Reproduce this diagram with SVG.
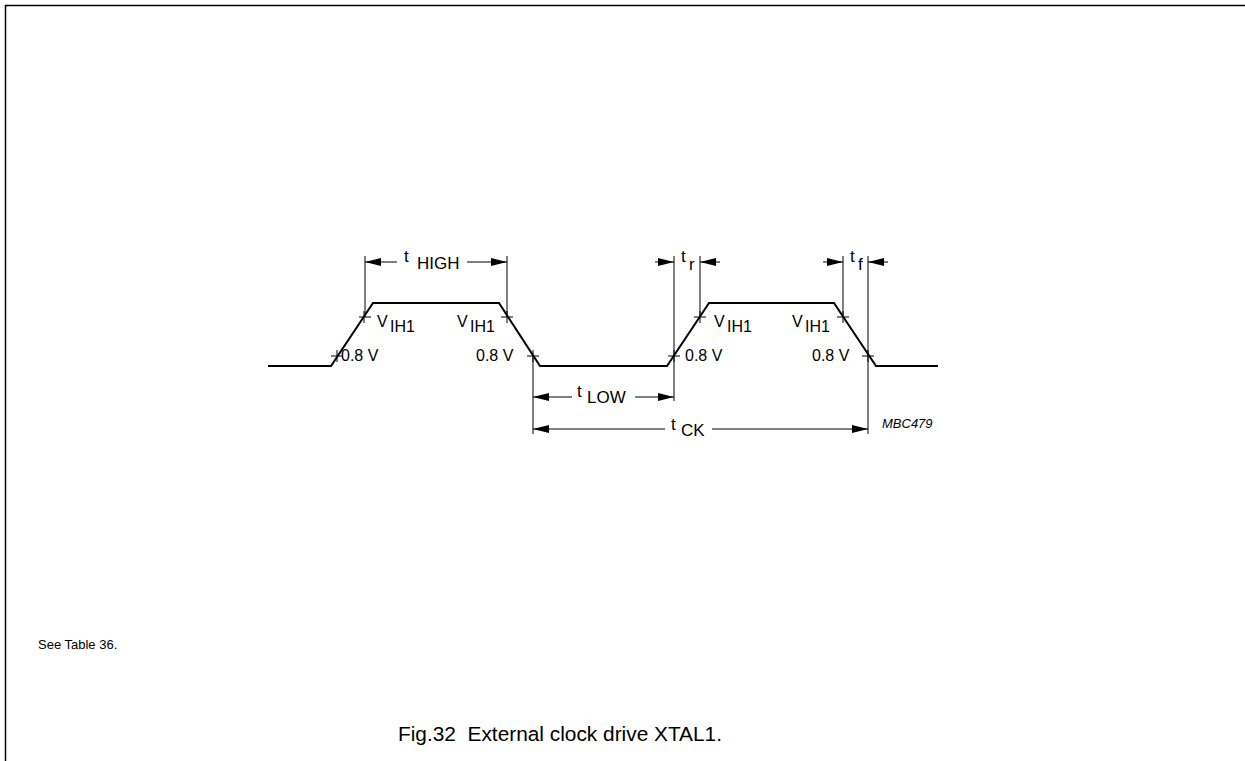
<svg xmlns="http://www.w3.org/2000/svg" width="1245" height="761" viewBox="0 0 1245 761">
<defs>
<marker id="ah" viewBox="0 0 16 8" refX="16" refY="4" markerWidth="16" markerHeight="8" markerUnits="userSpaceOnUse" orient="auto">
<path d="M0,0 L16,4 L0,8 Z" fill="#000"/>
</marker>
<style>
.t{font-family:"Liberation Sans",Arial,sans-serif;font-size:16px;fill:#000}
.s{font-family:"Liberation Sans",Arial,sans-serif;font-size:17px;fill:#000}
.wave{fill:none;stroke:#000;stroke-width:2}
.ext{stroke:#000;stroke-width:1;fill:none}
.dim{stroke:#000;stroke-width:1;fill:none;marker-end:url(#ah)}
.tick{stroke:#000;stroke-width:1}
</style>
</defs>
<rect width="1245" height="761" fill="#fff"/>
<path d="M5.5,761 V5.5 H1245" fill="none" stroke="#000" stroke-width="1.5"/>

<g id="waveform">
<path class="wave" d="M268,366 H331 L373,303 H499 L540,366 H667 L709,303 H834 L876,366 H938"/>
</g>

<g id="crossings">
<path class="tick" d="M359,317 H371 M364,311 V323"/>
<path class="tick" d="M331,356 H343 M337,350 V362"/>
<path class="tick" d="M501,317 H513 M507,311 V323"/>
<path class="tick" d="M527,356 H539 M533,350 V362"/>
<path class="tick" d="M668,356 H680 M674,350 V362"/>
<path class="tick" d="M694,317 H706 M700,311 V323"/>
<path class="tick" d="M837,317 H849 M843,311 V323"/>
<path class="tick" d="M862,356 H874 M868,350 V362"/>
</g>

<g id="connectors">
<path class="ext" d="M365,256 V317"/>
<path class="ext" d="M507,256 V317"/>
<path class="ext" d="M533,356 V434"/>
<path class="ext" d="M674,256 V401"/>
<path class="ext" d="M700,256 V317"/>
<path class="ext" d="M843,256 V317"/>
<path class="ext" d="M868,256 V434"/>
<path class="dim" d="M397,262 H365"/>
<path class="dim" d="M467,262 H507"/>
<path class="dim" d="M655,262 H674"/>
<path class="dim" d="M720,262 H700"/>
<path class="dim" d="M823,262 H843"/>
<path class="dim" d="M888,262 H868"/>
<path class="dim" d="M572,397 H533"/>
<path class="dim" d="M635,397 H674"/>
<path class="dim" d="M665,429 H533"/>
<path class="dim" d="M712,429 H868"/>
</g>

<g id="labels">
<text class="s" x="404" y="262">t</text><text class="s" x="417" y="269">HIGH</text>
<text class="s" x="681" y="262">t</text><text class="s" x="689" y="270">r</text>
<text class="s" x="850" y="262">t</text><text class="s" x="858" y="270">f</text>
<text class="t" x="377" y="327">V</text><text class="t" x="390" y="332">IH1</text>
<text class="t" x="457" y="327">V</text><text class="t" x="470" y="332">IH1</text>
<text class="t" x="714" y="327">V</text><text class="t" x="727" y="332">IH1</text>
<text class="t" x="792" y="327">V</text><text class="t" x="805" y="332">IH1</text>
<text class="t" x="341" y="361">0.8 V</text>
<text class="t" x="476" y="361">0.8 V</text>
<text class="t" x="685" y="361">0.8 V</text>
<text class="t" x="812" y="361">0.8 V</text>
<text class="s" x="577" y="397">t</text><text class="s" x="587" y="403">LOW</text>
<text class="s" x="671" y="430">t</text><text class="s" x="681" y="436">CK</text>
<text x="882" y="428" font-family="Liberation Sans,Arial,sans-serif" font-size="13" font-style="italic">MBC479</text>
<text x="38" y="649" font-family="Liberation Sans,Arial,sans-serif" font-size="13">See Table 36.</text>
<text x="398" y="741" font-family="Liberation Sans,Arial,sans-serif" font-size="20" xml:space="preserve" textLength="324" lengthAdjust="spacingAndGlyphs">Fig.32  External clock drive XTAL1.</text>
</g>
</svg>
